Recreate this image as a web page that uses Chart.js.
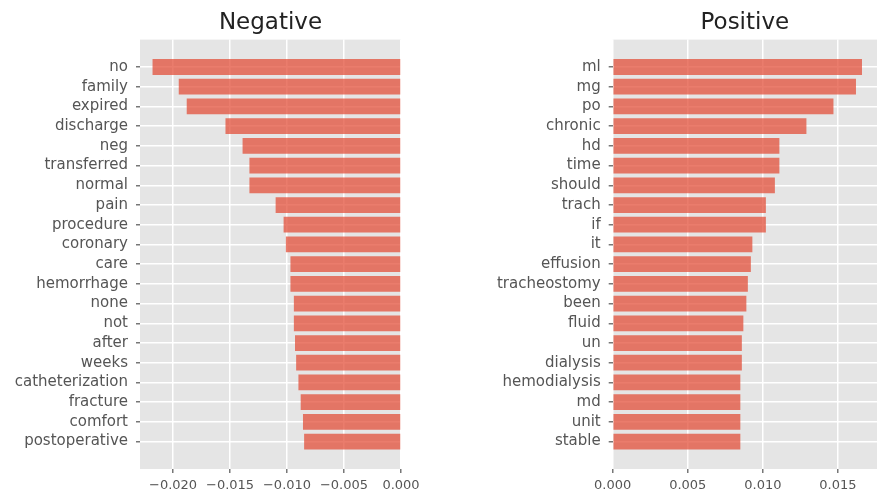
<!DOCTYPE html>
<html>
<head>
<meta charset="utf-8">
<script src="https://cdn.jsdelivr.net/npm/chart.js@4"></script>
<style>
  html, body { margin: 0; padding: 0; background: #fff; }
  body { width: 877px; height: 496px; position: relative; overflow: hidden; }
  .box { position: absolute; top: 0; height: 496px; }
  #boxNeg { left: 0; width: 425px; }
  #boxPos { left: 470px; width: 407px; }
</style>
</head>
<body>
<div class="box" id="boxNeg"><canvas id="chartNeg"></canvas></div>
<div class="box" id="boxPos"><canvas id="chartPos"></canvas></div>
<script>
// words and weights (top -> bottom)
const negWords = ['no', 'family', 'expired', 'discharge', 'neg', 'transferred', 'normal', 'pain',
  'procedure', 'coronary', 'care', 'hemorrhage', 'none', 'not', 'after', 'weeks',
  'catheterization', 'fracture', 'comfort', 'postoperative'];
const negValues = [-0.0218, -0.0195, -0.0188, -0.0154, -0.0139, -0.0133, -0.0133, -0.0110,
  -0.0103, -0.0101, -0.0097, -0.0097, -0.0094, -0.0094, -0.0093, -0.0092,
  -0.0090, -0.0088, -0.0086, -0.0085];

const posWords = ['ml', 'mg', 'po', 'chronic', 'hd', 'time', 'should', 'trach', 'if', 'it',
  'effusion', 'tracheostomy', 'been', 'fluid', 'un', 'dialysis', 'hemodialysis', 'md', 'unit', 'stable'];
const posValues = [0.0166, 0.0162, 0.0147, 0.0129, 0.0111, 0.0111, 0.0108, 0.0102, 0.0102, 0.0093,
  0.0092, 0.0090, 0.0089, 0.0087, 0.0086, 0.0086, 0.0085, 0.0085, 0.0085, 0.0085];

const negTicks = [-0.020, -0.015, -0.010, -0.005, 0.000];
const posTicks = [0.000, 0.005, 0.010, 0.015];

Chart.defaults.font.family = "'DejaVu Sans', sans-serif";
Chart.defaults.animation = false;

const BAR = 'rgba(226, 74, 51, 0.72)';
const PANEL = '#E5E5E5';

// ggplot-like grey panel
const panelBg = {
  id: 'panelBg',
  beforeDraw(chart) {
    const a = chart.chartArea, c = chart.ctx;
    c.save();
    c.fillStyle = PANEL;
    c.fillRect(a.left, a.top, a.right - a.left, a.bottom - a.top);
    c.restore();
  }
};

function fmt(v) {
  const s = Math.abs(v).toFixed(3);
  return v < 0 ? '\u2212' + s : s;
}

function makeChart(id, title, words, values, ticks, xMin, xMax, yWidth, padRight) {
  const pad = 1.39; // matplotlib-ish margins around the bars
  return new Chart(document.getElementById(id), {
    type: 'bar',
    data: {
      datasets: [{
        data: values.map((v, i) => ({ x: v, y: i })),
        backgroundColor: BAR,
        borderWidth: 0,
        categoryPercentage: 1.0,
        barPercentage: 0.8
      }]
    },
    options: {
      indexAxis: 'y',
      responsive: true,
      maintainAspectRatio: false,
      layout: { padding: { left: 0, right: padRight, top: 0, bottom: 0 } },
      plugins: {
        legend: { display: false },
        tooltip: { enabled: false },
        title: {
          display: true, text: title, fullSize: false,
          color: '#222', font: { size: 23, weight: 'normal' },
          padding: { top: 9, bottom: 3 }
        }
      },
      scales: {
        x: {
          type: 'linear', min: xMin, max: xMax,
          afterBuildTicks: s => { s.ticks = ticks.map(v => ({ value: v })); },
          afterFit: s => { s.height = 27; },
          border: { display: false },
          grid: { color: '#fff', lineWidth: 1.5, tickColor: '#777', tickLength: 4 },
          ticks: { color: '#555', font: { size: 13 }, padding: 5, maxRotation: 0, autoSkip: false, callback: v => fmt(v) }
        },
        y: {
          type: 'linear', reverse: true, offset: false, min: -pad, max: words.length - 1 + pad,
          afterBuildTicks: s => { s.ticks = words.map((_, i) => ({ value: i })); },
          afterFit: s => { s.width = yWidth; },
          border: { display: false },
          grid: { offset: false, color: '#fff', lineWidth: 1.5, tickColor: '#777', tickLength: 4 },
          ticks: { color: '#555', font: { size: 15 }, padding: 8, autoSkip: false, callback: v => words[v] }
        }
      }
    },
    plugins: [panelBg]
  });
}

makeChart('chartNeg', 'Negative', negWords, negValues, negTicks, -0.0229, 0, 140, 24);
makeChart('chartPos', 'Positive', posWords, posValues, posTicks, 0, 0.0176, 142.7, 0);
</script>
</body>
</html>
